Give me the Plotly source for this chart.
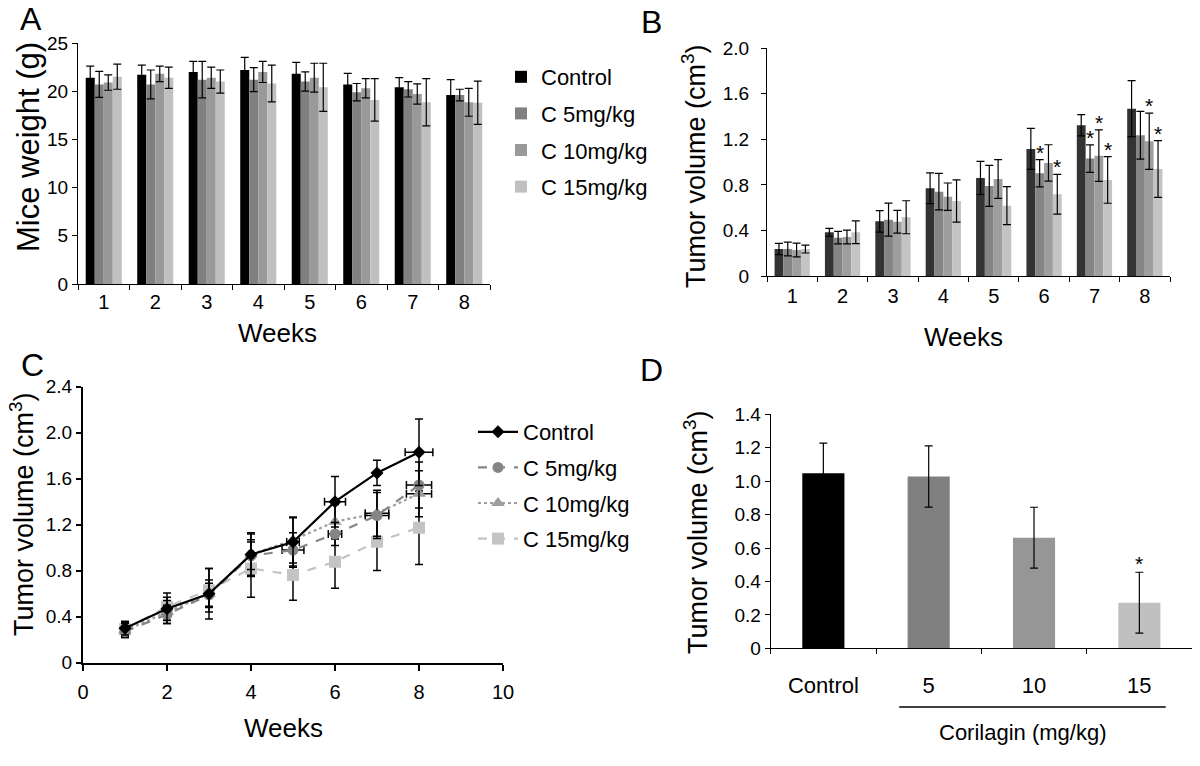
import plotly.graph_objects as go

# ---- data ----
weeks = ["1", "2", "3", "4", "5", "6", "7", "8"]
week_num = [1, 2, 3, 4, 5, 6, 7, 8]
groups = ["Control", "C 5mg/kg", "C 10mg/kg", "C 15mg/kg"]

# A: mice weight (g)
wt_ctrl = [21.4, 21.7, 22.0, 22.2, 21.8, 20.7, 20.4, 19.6]
wt_ctrl_err = [1.2, 1.0, 1.1, 1.3, 1.2, 1.15, 1.0, 1.6]
wt_c5 = [20.7, 20.7, 21.2, 21.2, 21.0, 19.9, 20.2, 19.6]
wt_c5_err = [1.35, 1.5, 1.9, 1.25, 1.0, 0.9, 0.8, 0.6]
wt_c10 = [20.9, 21.8, 21.4, 22.0, 21.4, 20.3, 19.7, 18.85]
wt_c10_err = [0.8, 0.8, 1.1, 1.1, 1.5, 1.0, 1.05, 1.45]
wt_c15 = [21.5, 21.4, 21.0, 20.8, 20.4, 19.1, 18.85, 18.8]
wt_c15_err = [1.3, 1.1, 1.2, 1.9, 2.5, 2.2, 2.45, 2.25]

# B: tumor volume (cm3), bars
tv_ctrl = [0.237, 0.384, 0.48, 0.77, 0.861, 1.116, 1.324, 1.47]
tv_ctrl_err = [0.05, 0.035, 0.095, 0.135, 0.145, 0.18, 0.094, 0.246]
tv_c5 = [0.237, 0.337, 0.495, 0.741, 0.791, 0.902, 1.031, 1.236]
tv_c5_err = [0.06, 0.055, 0.145, 0.16, 0.18, 0.12, 0.12, 0.21]
tv_c10 = [0.228, 0.343, 0.477, 0.697, 0.852, 0.993, 1.057, 1.183]
tv_c10_err = [0.06, 0.06, 0.1, 0.12, 0.17, 0.16, 0.226, 0.247]
tv_c15 = [0.237, 0.384, 0.516, 0.659, 0.618, 0.718, 0.844, 0.94]
tv_c15_err = [0.035, 0.1, 0.145, 0.185, 0.167, 0.175, 0.205, 0.249]
# weeks with significance star, per group
star_c5 = ["6", "7"]
star_c10 = ["7", "8"]
star_c15 = ["6", "7", "8"]

# C: tumor volume (cm3), lines
c_ctrl = [0.30, 0.47, 0.60, 0.94, 1.05, 1.40, 1.65, 1.83]
c_ctrl_err = [0.06, 0.10, 0.12, 0.19, 0.21, 0.22, 0.11, 0.29]
c_ctrl_xerr = [0, 0, 0, 0.05, 0.15, 0.25, 0, 0.33]
c_c5 = [0.27, 0.42, 0.59, 0.93, 0.98, 1.12, 1.28, 1.545]
c_c5_err = [0.05, 0.08, 0.10, 0.12, 0.15, 0.10, 0.20, 0.20]
c_c5_xerr = [0, 0, 0, 0.05, 0.26, 0.16, 0.28, 0.3]
c_c10 = [0.28, 0.44, 0.60, 0.94, 1.067, 1.226, 1.30, 1.47]
c_c10_err = [0.06, 0.10, 0.22, 0.18, 0.20, 0.15, 0.20, 0.20]
c_c10_xerr = [0, 0, 0, 0, 0, 0, 0.28, 0.3]
c_c15 = [0.29, 0.487, 0.63, 0.82, 0.763, 0.878, 1.052, 1.174]
c_c15_err = [0.06, 0.12, 0.19, 0.25, 0.22, 0.23, 0.25, 0.32]

# D: tumor volume at end, by dose
d_groups = ["Control", "5", "10", "15"]
d_vals = [1.048, 1.028, 0.662, 0.273]
d_err = [0.18, 0.183, 0.182, 0.182]
d_star = ["15"]

ticks_b = [0, 0.4, 0.8, 1.2, 1.6, 2.0]
ticks_b_txt = ["0", "0.4", "0.8", "1.2", "1.6", "2.0"]
ticks_c = [0, 0.4, 0.8, 1.2, 1.6, 2.0, 2.4]
ticks_c_txt = ["0", "0.4", "0.8", "1.2", "1.6", "2.0", "2.4"]
ticks_d = [0, 0.2, 0.4, 0.6, 0.8, 1.0, 1.2, 1.4]
ticks_d_txt = ["0", "0.2", "0.4", "0.6", "0.8", "1.0", "1.2", "1.4"]

FONT = "Liberation Sans, Arial, sans-serif"
W, H = 1200, 766
cols_a = ["#000000", "#808080", "#999999", "#c0c0c0"]
cols_b = ["#333333", "#858585", "#9e9e9e", "#c4c4c4"]
cols_d = ["#000000", "#808080", "#969696", "#c0c0c0"]


def px(x, y):
    return x / W, 1 - y / H


fig = go.Figure()

# panel A
for name, vals, errs, col in zip(groups, [wt_ctrl, wt_c5, wt_c10, wt_c15],
                                 [wt_ctrl_err, wt_c5_err, wt_c10_err, wt_c15_err], cols_a):
    fig.add_trace(go.Bar(x=weeks, y=vals, name=name, marker=dict(color=col, line_width=0),
                         error_y=dict(type="data", array=errs, color="black", thickness=1.2, width=4),
                         xaxis="x", yaxis="y", legend="legend", legendgroup="a" + name))

# panel B
bar_w = 0.7 / 4
for name, vals, errs, col in zip(groups, [tv_ctrl, tv_c5, tv_c10, tv_c15],
                                 [tv_ctrl_err, tv_c5_err, tv_c10_err, tv_c15_err], cols_b):
    fig.add_trace(go.Bar(x=weeks, y=vals, name=name, marker=dict(color=col, line_width=0),
                         error_y=dict(type="data", array=errs, color="black", thickness=1.2, width=4),
                         xaxis="x2", yaxis="y2", showlegend=False))

stars = []
for i, (starweeks, vals, errs) in enumerate(zip([star_c5, star_c10, star_c15],
                                                [tv_c5, tv_c10, tv_c15],
                                                [tv_c5_err, tv_c10_err, tv_c15_err])):
    off = -0.35 + bar_w * (i + 1.5)
    for wk in starweeks:
        k = weeks.index(wk)
        stars.append(dict(x=k + off, y=vals[k] + errs[k], xref="x2", yref="y2", text="*",
                          showarrow=False, yanchor="bottom", yshift=-6,
                          font=dict(size=21, color="black", family=FONT)))

# panel C
line_styles = [
    dict(color="black", dash="solid", width=2.2),
    dict(color="#858585", dash="dash", width=2.2),
    dict(color="#9e9e9e", dash="dot", width=2.2),
    dict(color="#c4c4c4", dash="dash", width=2.2),
]
marker_styles = [
    dict(symbol="diamond", size=10, color="black"),
    dict(symbol="circle", size=11, color="#858585"),
    dict(symbol="triangle-up", size=12, color="#9e9e9e"),
    dict(symbol="square", size=12, color="#c4c4c4"),
]
c_series = [c_ctrl, c_c5, c_c10, c_c15]
c_errs = [c_ctrl_err, c_c5_err, c_c10_err, c_c15_err]
c_xerrs = [c_ctrl_xerr, c_c5_xerr, c_c10_xerr, None]
order = [3, 2, 1, 0]  # control drawn last, on top
for i in order:
    if c_xerrs[i]:
        ex = dict(type="data", array=c_xerrs[i], color="black", thickness=1.5, width=4)
    else:
        ex = dict(visible=False)
    fig.add_trace(go.Scatter(x=week_num, y=c_series[i], name=groups[i], mode="lines+markers",
                             line=line_styles[i], marker=marker_styles[i],
                             error_y=dict(type="data", array=c_errs[i], color="black", thickness=1.5, width=4),
                             error_x=ex,
                             xaxis="x3", yaxis="y3", legend="legend2", legendgroup="c" + groups[i],
                             legendrank=i + 1))

# panel D
fig.add_trace(go.Bar(x=d_groups, y=d_vals, width=0.4, marker=dict(color=cols_d, line_width=0),
                     error_y=dict(type="data", array=d_err, color="black", thickness=1.2, width=4),
                     xaxis="x4", yaxis="y4", showlegend=False))
for g in d_star:
    k = d_groups.index(g)
    stars.append(dict(x=k, y=d_vals[k] + d_err[k], xref="x4", yref="y4", text="*",
                      showarrow=False, yanchor="bottom", yshift=-5,
                      font=dict(size=21, color="black", family=FONT)))

axis_common = dict(showgrid=False, zeroline=False, showline=True, linecolor="black",
                   ticks="outside", tickcolor="black", ticklen=5, color="black")

fig.update_layout(
    autosize=True,
    margin=dict(l=0, r=0, t=0, b=0, autoexpand=False),
    paper_bgcolor="white", plot_bgcolor="white",
    font=dict(family=FONT, color="black"),
    barmode="group", bargap=0.3, bargroupgap=0,
    xaxis=dict(axis_common, domain=[78 / W, 490 / W], anchor="y", type="category",
               tickson="boundaries", linewidth=1, tickfont=dict(size=20)),
    yaxis=dict(axis_common, domain=[1 - 284 / H, 1 - 43 / H], anchor="x", range=[0, 25],
               dtick=5, linewidth=1, tickfont=dict(size=19)),
    xaxis2=dict(axis_common, domain=[767 / W, 1170 / W], anchor="y2", type="category",
                tickson="boundaries", linewidth=1, tickfont=dict(size=20), ticklabelstandoff=2),
    yaxis2=dict(axis_common, domain=[1 - 276 / H, 1 - 48.3 / H], anchor="x2", range=[0, 2.0],
                tickvals=ticks_b, ticktext=ticks_b_txt, linewidth=1, tickfont=dict(size=19),
                ticklabelstandoff=8),
    xaxis3=dict(axis_common, domain=[83 / W, 503 / W], anchor="y3", range=[0, 10], dtick=2,
                linewidth=2.2, tickwidth=2, ticklen=6, tickfont=dict(size=20), ticklabelstandoff=4),
    yaxis3=dict(axis_common, domain=[1 - 662.7 / H, 1 - 386.7 / H], anchor="x3", range=[0, 2.4],
                tickvals=ticks_c, ticktext=ticks_c_txt, linewidth=2.2, tickwidth=2, ticklen=5,
                tickfont=dict(size=19)),
    xaxis4=dict(axis_common, domain=[770.7 / W, 1192 / W], anchor="y4", type="category",
                tickson="boundaries", linewidth=1, tickfont=dict(size=22), ticklabelstandoff=17),
    yaxis4=dict(axis_common, domain=[1 - 648.3 / H, 1 - 414.3 / H], anchor="x4", range=[0, 1.4],
                tickvals=ticks_d, ticktext=ticks_d_txt, linewidth=1, tickfont=dict(size=19)),
    legend=dict(x=px(501, 0)[0], y=px(0, 56)[1], xanchor="left", yanchor="top",
                font=dict(size=22), tracegroupgap=5, bgcolor="rgba(0,0,0,0)"),
    legend2=dict(x=px(473, 0)[0], y=px(0, 411)[1], xanchor="left", yanchor="top",
                 font=dict(size=22), tracegroupgap=4, bgcolor="rgba(0,0,0,0)", itemwidth=40),
    showlegend=True,
)


def label(text, x, y, size, angle=0):
    xp, yp = px(x, y)
    return dict(text=text, x=xp, y=yp, xref="paper", yref="paper", showarrow=False,
                xanchor="center", yanchor="middle", textangle=angle,
                font=dict(size=size, color="black", family=FONT))


annots = [
    label("A", 31, 19, 32), label("B", 651, 22, 32), label("C", 32, 365, 32), label("D", 651, 370, 32),
    label("Mice weight (g)", 28, 147, 31, -90),
    label("Tumor volume (cm<sup>3</sup>)", 694, 166, 27, -90),
    label("Tumor volume (cm<sup>3</sup>)", 22, 514, 27, -90),
    label("Tumor volume (cm<sup>3</sup>)", 696, 532, 27, -90),
    label("Weeks", 277, 333, 26), label("Weeks", 963, 337, 26), label("Weeks", 283, 728, 26),
    label("Corilagin (mg/kg)", 1023, 732, 22),
]
fig.update_layout(annotations=annots + stars)

# bracket line under the dose labels of panel D
fig.add_shape(type="line", xref="x4", yref="paper", x0=0.72, x1=3.25,
              y0=px(0, 707)[1], y1=px(0, 707)[1], line=dict(color="black", width=1.5))

# figure sized to the window (100vw x 100vh), page margin removed
fig.write_html("out.html", default_width="100vw", default_height="100vh",
               config={"displayModeBar": False},
               post_script="document.body.style.margin='0';document.body.style.overflow='hidden';")
